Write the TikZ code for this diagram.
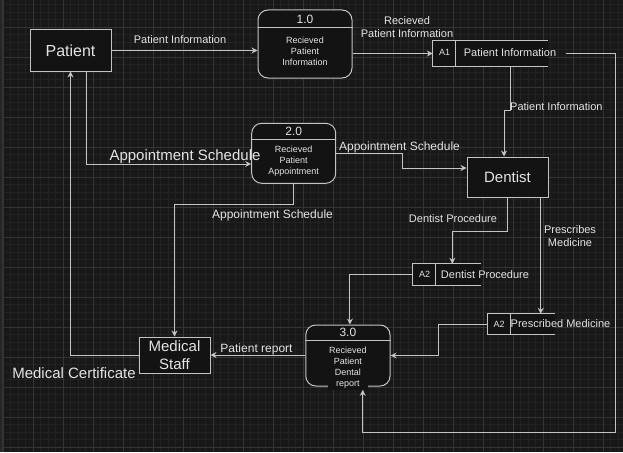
\documentclass[tikz,border=0pt]{standalone}
\usepackage{fontspec}
\setmainfont{Liberation Sans}
\usetikzlibrary{arrows.meta,calc}
\definecolor{bgc}{HTML}{181818}
\definecolor{minorc}{HTML}{222222}
\definecolor{majorc}{HTML}{343434}
\definecolor{linec}{HTML}{C4C4C4}
\definecolor{txtc}{HTML}{E4E4E4}
\definecolor{boxc}{HTML}{131313}
\begin{document}
\begin{tikzpicture}[x=1pt,y=-1pt,
  entity/.style={draw=linec,fill=boxc,text=txtc,line width=1pt,inner sep=0pt,align=center},
  proc/.style={draw=linec,fill=boxc,line width=1pt,rounded corners=10pt,inner sep=0pt},
  divider/.style={draw=linec,line width=1pt},
  ptitle/.style={text=txtc,font=\fontsize{12}{14}\selectfont,inner sep=0pt},
  pbody/.style={text=txtc,font=\fontsize{9}{11}\selectfont,align=center,fill=boxc,inner sep=1pt},
  store/.style={fill=boxc,inner sep=0pt},
  storeline/.style={draw=linec,line width=1pt},
  flow/.style={draw=linec,line width=1pt,-{Stealth[length=6pt,width=6pt,inset=2pt]}},
  lbl/.style={text=txtc,font=\fontsize{11}{13}\selectfont,align=center,inner sep=0pt},
  mlbl/.style={text=txtc,font=\fontsize{12}{14}\selectfont,align=center,inner sep=0pt},
  biglbl/.style={text=txtc,font=\fontsize{15}{17}\selectfont,inner sep=0pt},
  stid/.style={text=txtc,font=\fontsize{9}{11}\selectfont,inner sep=0pt},
]
\useasboundingbox (0,0) rectangle (623,452);
% background and grid
\fill[bgc] (0,0) rectangle (623,452);
\foreach \i in {0,...,82} \draw[minorc,line width=1pt] ({3.3+7.5*\i},0) -- ({3.3+7.5*\i},452);
\foreach \i in {0,...,59} \draw[minorc,line width=1pt] (0,{4.8+7.5*\i}) -- (623,{4.8+7.5*\i});
\foreach \i in {0,...,20} \draw[majorc,line width=1pt] ({3.3+30*\i},0) -- ({3.3+30*\i},452);
\foreach \i in {0,...,14} \draw[majorc,line width=1pt] (0,{27.3+30*\i}) -- (623,{27.3+30*\i});
\fill[black!85] (0,0) rectangle (2.5,452);
\draw[majorc,line width=1.2pt] (3,0) -- (3,452);

% external entities
\node[entity,minimum width=81pt,minimum height=41pt,font=\fontsize{16}{18}\selectfont] (patient) at (70.5,50.5) {Patient};
\node[entity,minimum width=81pt,minimum height=40pt,font=\fontsize{15}{18}\selectfont] (dentist) at (507.5,177) {Dentist};
\node[entity,minimum width=71pt,minimum height=36pt,font=\fontsize{15}{18}\selectfont] (medstaff) at (174.5,355) {Medical\\Staff};

% processes
\node[proc,minimum width=94pt,minimum height=68pt] (p1) at (305,44) {};
\draw[divider] (p1.west |- 0,28) -- (p1.east |- 0,28);
\node[ptitle] (p1h) at (305,19) {1.0};
\node[pbody] (p1t) at (305,51) {Recieved\\Patient\\Information};

\node[proc,minimum width=84pt,minimum height=60pt] (p2) at (293.7,153.3) {};
\draw[divider] (p2.west |- 0,139.3) -- (p2.east |- 0,139.3);
\node[ptitle] (p2h) at (293.7,131.7) {2.0};
\node[pbody] (p2t) at (293.7,161.5) {Recieved\\Patient\\Appointment};

\node[proc,minimum width=84.3pt,minimum height=61pt] (p3) at (347.9,355.5) {};
\draw[divider] (p3.west |- 0,340) -- (p3.east |- 0,340);
\node[ptitle] (p3h) at (347.9,332) {3.0};
\node[pbody] (p3t) at (347.9,368) {Recieved\\Patient\\Dental\\report};

% data stores
\node[store,minimum width=115pt,minimum height=25pt] (a1) at (490.5,53.5) {};
\draw[storeline] (a1.north east) -- (a1.north west) -- (a1.south west) -- (a1.south east);
\draw[storeline] ([xshift=23pt]a1.north west) -- ([xshift=23pt]a1.south west);
\node[stid] (a1id) at (444.5,52) {A1};
\node[lbl] (a1n) at (510,53) {Patient Information};

\node[store,minimum width=68pt,minimum height=21pt] (dp) at (447,274.5) {};
\draw[storeline] (dp.north east) -- (dp.north west) -- (dp.south west) -- (dp.south east);
\draw[storeline] ([xshift=23pt]dp.north west) -- ([xshift=23pt]dp.south west);
\node[stid] (dpid) at (424.5,274) {A2};
\node[lbl] (dpn) at (485,275) {Dentist Procedure};

\node[store,minimum width=67pt,minimum height=20pt] (pm) at (521.5,324) {};
\draw[storeline] (pm.north east) -- (pm.north west) -- (pm.south west) -- (pm.south east);
\draw[storeline] ([xshift=22.5pt]pm.north west) -- ([xshift=22.5pt]pm.south west);
\node[stid] (pmid) at (499,324) {A2};
\node[lbl] (pmn) at (560.5,324) {Prescribed Medicine};

% flows
\draw[flow] (patient.east) -- (patient.east -| p1.west);
\node[lbl] (l1) at (180,40) {Patient Information};

\draw[flow] (p1.east |- a1.west) -- (a1.west);
\node[lbl] (l2) at (407,27.5) {Recieved\\Patient Information};

\draw[flow] ([xshift=19.5pt]a1.south) -- ++(0,44) -| ([xshift=-3.5pt]dentist.north);
\node[lbl,anchor=west] (l3) at (510,107) {Patient Information};

\draw[flow] ([xshift=18pt]a1.east) -- ++(49,0) -- ++(0,378.5) -| ([xshift=14.8pt]p3t.south);

\draw[flow] ([xshift=15.5pt]patient.south) |- ($(p2.west)+(0,10.7)$);
\node[biglbl] (l4) at (185,157) {Appointment Schedule};

\draw[flow] (p2.east) -- ++(66,0) |- ($(dentist.west)+(0,-9)$);
\node[mlbl] (l5) at (399.5,147) {Appointment Schedule};

\draw[flow] (p2.south) -- ++(0,20.7) -| (medstaff.north);
\node[mlbl] (l6) at (272.5,215.7) {Appointment Schedule};

\draw[flow] (medstaff.west) -| (patient.south);
\node[biglbl] (l7) at (74,373) {Medical Certificate};

\draw[flow] (p3.west |- medstaff.east) -- (medstaff.east);
\node[mlbl] (l8) at (256.5,349) {Patient report};

\draw[flow] (dentist.south) -- ++(0,33.7) -| ([xshift=5.3pt]dp.north);
\node[lbl] (l9) at (453,219) {Dentist Procedure};

\draw[flow] ([xshift=33.2pt]dentist.south) -- ([xshift=33.2pt]dentist.south |- pm.north);
\node[lbl] (l10) at (570,236) {Prescribes\\Medicine};

\draw[flow] (dp.west) -| ([xshift=2pt]p3.north);
\draw[flow] (pm.west) -- ++(-49.3,0) |- (p3.east);
\end{tikzpicture}
\end{document}
